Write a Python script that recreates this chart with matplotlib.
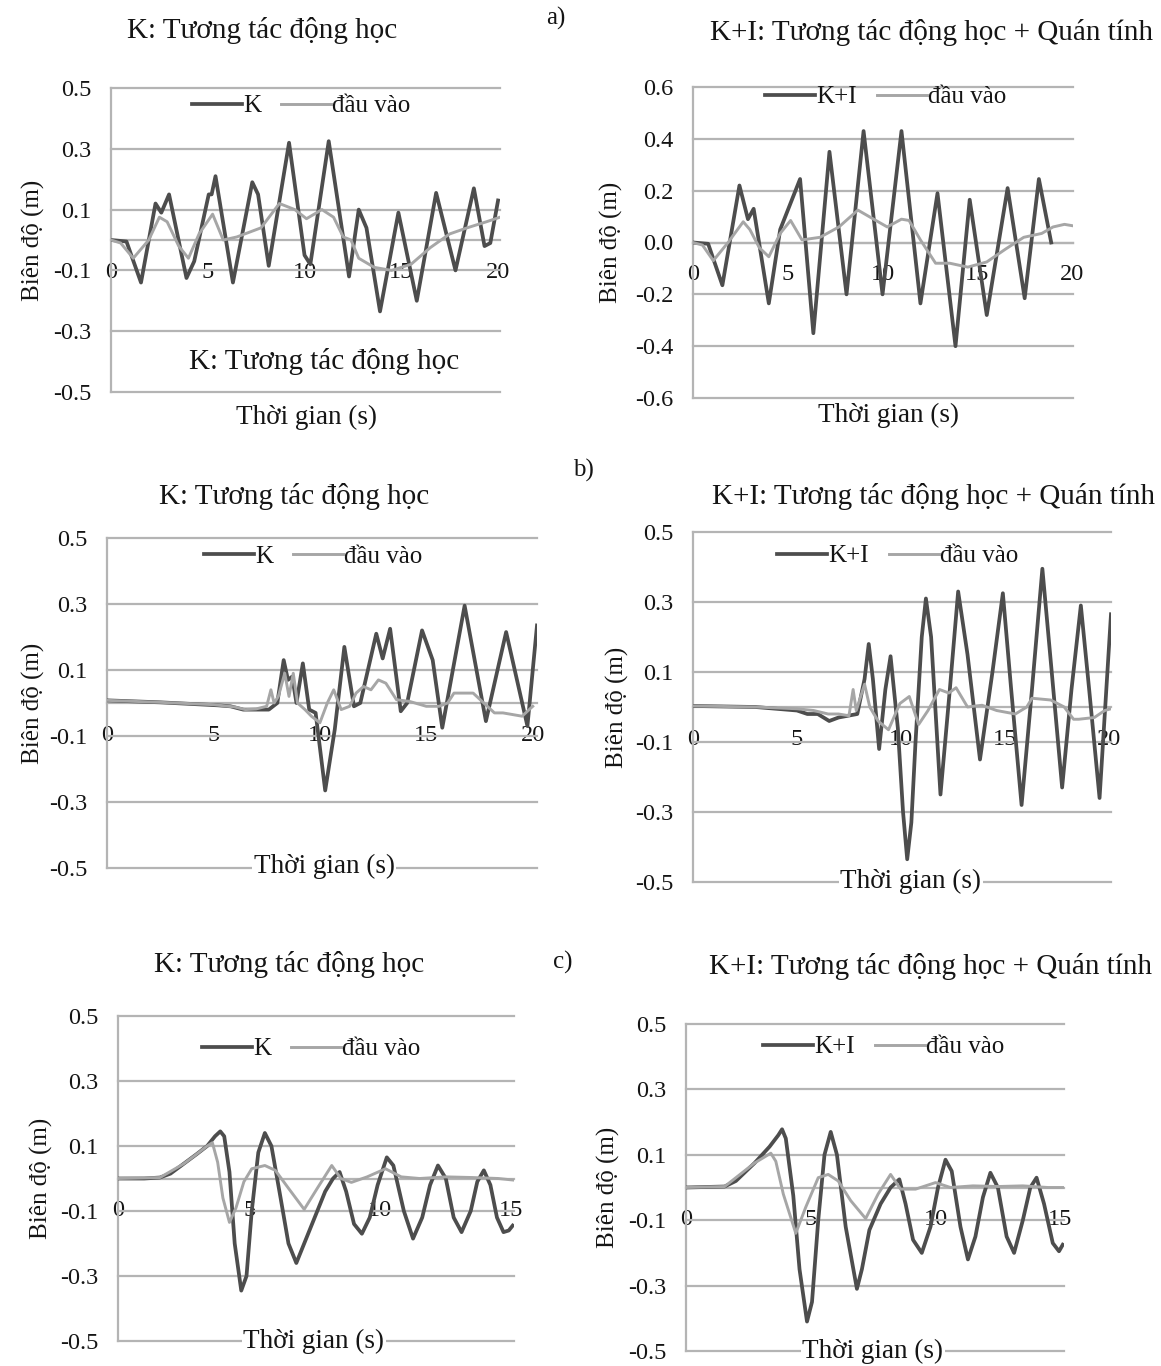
import matplotlib
matplotlib.use("Agg")
import matplotlib.pyplot as plt

plt.rcParams["font.family"] = ["Liberation Serif", "DejaVu Serif"]

W, H = 1161, 1366
K_COLOR = "#4d4d4d"
IN_COLOR = "#a6a6a6"
GRID_COLOR = "#b4b4b4"
TEXT_COLOR = "#151515"

# ---------------- data: displacement histories (time in s, amplitude in m) ----------------
# a) row
a_k_t = [0, 0.8, 1.55, 2.3, 2.6, 3.0, 3.9, 4.3, 5.05, 5.2, 5.4, 6.3, 7.3, 7.6, 8.15, 9.2, 10.0,
         10.3, 11.25, 12.3, 12.8, 13.2, 13.9, 14.85, 15.8, 16.8, 17.8, 18.75, 19.3, 19.6, 20.0]
a_k_y = [0, -0.005, -0.14, 0.12, 0.09, 0.15, -0.125, -0.07, 0.15, 0.15, 0.21, -0.14, 0.19, 0.15,
         -0.085, 0.32, -0.05, -0.08, 0.325, -0.12, 0.10, 0.04, -0.235, 0.09, -0.2, 0.155, -0.1,
         0.17, -0.02, -0.01, 0.13]
a_in_t = [0, 0.5, 1.15, 1.95, 2.5, 2.9, 3.5, 4.0, 4.55, 5.25, 5.8, 6.5, 7.75, 8.7, 9.5, 10.1,
          10.9, 11.5, 12.0, 12.4, 12.8, 13.6, 14.5, 15.5, 16.5, 17.5, 18.4, 19.4, 20.1]
a_in_y = [0, -0.01, -0.06, 0.0, 0.075, 0.06, -0.02, -0.06, 0.02, 0.085, 0.0, 0.01, 0.04, 0.12,
          0.10, 0.07, 0.10, 0.075, 0.01, 0.0, -0.06, -0.09, -0.10, -0.08, -0.025, 0.02, 0.04,
          0.06, 0.075]

a_ki_t = [0, 0.8, 1.55, 2.45, 2.9, 3.2, 4.0, 4.6, 5.65, 6.35, 7.2, 8.1, 9.0, 10.0, 11.0, 12.0,
          12.9, 13.85, 14.6, 15.5, 16.6, 17.5, 18.25, 18.9]
a_ki_y = [0, -0.005, -0.165, 0.22, 0.09, 0.13, -0.235, 0.05, 0.245, -0.35, 0.35, -0.2, 0.43,
          -0.2, 0.43, -0.235, 0.19, -0.40, 0.165, -0.28, 0.21, -0.215, 0.245, 0.0]
a_in2_t = [0, 0.5, 1.07, 1.85, 2.65, 3.0, 3.5, 4.0, 4.6, 5.15, 5.75, 6.7, 7.7, 8.7, 9.65, 10.25,
           11.0, 11.4, 12.0, 12.8, 13.55, 14.5, 15.5, 16.5, 17.45, 18.4, 19.0, 19.6, 20.0]
a_in2_y = [0, -0.01, -0.07, 0.0, 0.08, 0.05, -0.02, -0.055, 0.035, 0.085, 0.01, 0.02, 0.06,
           0.125, 0.085, 0.06, 0.09, 0.085, 0.01, -0.08, -0.08, -0.095, -0.075, -0.025, 0.02,
           0.035, 0.06, 0.07, 0.065]

# b) row
b_k_t = [0, 2.5, 5.2, 5.8, 6.4, 7.0, 7.6, 8.0, 8.3, 8.5, 8.7, 8.9, 9.2, 9.5, 9.8, 10.25, 10.7,
         11.15, 11.6, 11.9, 12.65, 12.95, 13.3, 13.8, 14.1, 14.8, 15.3, 15.75, 16.8, 17.8, 18.75,
         19.75, 20.2]
b_k_y = [0.008, 0.002, -0.007, -0.01, -0.02, -0.02, -0.02, 0.0, 0.13, 0.07, 0.08, 0.0, 0.12,
         -0.02, -0.03, -0.265, -0.08, 0.17, -0.01, 0.0, 0.21, 0.135, 0.225, -0.025, 0.0, 0.22,
         0.13, -0.075, 0.295, -0.055, 0.215, -0.07, 0.235]
b_in_t = [0, 2.5, 5.0, 6.0, 6.5, 7.0, 7.5, 7.7, 7.85, 8.05, 8.35, 8.55, 8.75, 8.95, 9.3, 9.6,
          10.0, 10.35, 10.65, 11.0, 11.4, 11.7, 12.05, 12.4, 12.75, 13.1, 13.6, 14.2, 15.0, 15.6,
          16.0, 16.3, 17.2, 17.7, 18.2, 18.6, 19.5, 20.0]
b_in_y = [0.008, 0.002, -0.005, -0.012, -0.02, -0.018, -0.01, 0.04, 0.0, 0.02, 0.09, 0.02, 0.09,
          0.0, -0.02, -0.04, -0.06, 0.0, 0.04, -0.02, -0.01, 0.03, 0.05, 0.04, 0.07, 0.06, 0.01,
          0.005, -0.01, -0.01, 0.0, 0.03, 0.03, 0.0, -0.03, -0.03, -0.04, -0.01]

b_ki_t = [0, 3.0, 5.0, 5.5, 6.0, 6.55, 7.0, 7.45, 7.9, 8.25, 8.45, 8.65, 8.95, 9.25, 9.5, 9.85,
          10.1, 10.3, 10.5, 10.7, 11.0, 11.2, 11.45, 11.9, 12.35, 12.75, 13.2, 13.8, 14.4, 14.9,
          15.3, 15.8, 16.3, 16.8, 17.25, 17.75, 18.2, 18.65, 19.05, 19.55, 20.1]
b_ki_y = [0.003, 0.0, -0.01, -0.02, -0.02, -0.04, -0.03, -0.025, -0.02, 0.08, 0.18, 0.08,
          -0.12, 0.05, 0.145, -0.06, -0.3, -0.435, -0.33, -0.1, 0.2, 0.31, 0.2, -0.25, 0.05, 0.33,
          0.15, -0.15, 0.1, 0.325, 0.05, -0.28, 0.05, 0.395, 0.1, -0.23, 0.05, 0.29, 0.05, -0.26,
          0.265]
b_in2_t = [0, 3.0, 5.0, 5.8, 6.5, 7.0, 7.5, 7.7, 7.85, 8.25, 8.5, 8.9, 9.4, 9.95, 10.4, 10.85,
           11.3, 11.85, 12.3, 12.65, 13.2, 13.9, 14.6, 15.5, 16.05, 16.3, 17.2, 17.85, 18.3, 18.55,
           19.3, 19.8, 20.1]
b_in2_y = [0.003, 0.0, -0.005, -0.01, -0.02, -0.02, -0.025, 0.05, -0.01, 0.065, 0.0, -0.04,
           -0.065, 0.01, 0.03, -0.05, -0.01, 0.05, 0.04, 0.055, 0.0, 0.005, -0.01, -0.02, 0.0,
           0.025, 0.02, 0.0, -0.035, -0.035, -0.03, -0.01, -0.005]

# c) row
c_k_t = [0, 1.0, 1.6, 2.0, 2.5, 3.0, 3.4, 3.7, 3.9, 4.05, 4.25, 4.45, 4.7, 4.9, 5.1, 5.35, 5.6,
         5.85, 6.2, 6.5, 6.8, 7.1, 7.5, 7.9, 8.2, 8.45, 8.7, 9.0, 9.3, 9.6, 9.9, 10.25, 10.5, 10.9,
         11.25, 11.6, 11.9, 12.2, 12.5, 12.8, 13.1, 13.45, 13.7, 13.95, 14.2, 14.45, 14.7, 14.9,
         15.05]
c_k_y = [0, 0.0, 0.003, 0.015, 0.045, 0.075, 0.10, 0.13, 0.145, 0.13, 0.02, -0.2, -0.345, -0.3,
         -0.1, 0.08, 0.14, 0.1, -0.06, -0.2, -0.26, -0.2, -0.12, -0.04, 0.0, 0.02, -0.04, -0.14,
         -0.17, -0.12, -0.02, 0.065, 0.04, -0.1, -0.185, -0.12, -0.02, 0.04, 0.0, -0.12, -0.165,
         -0.1, -0.01, 0.025, -0.02, -0.12, -0.165, -0.16, -0.145]
c_in_t = [0, 1.6, 2.5, 3.0, 3.4, 3.6, 3.8, 4.0, 4.25, 4.5, 4.8, 5.1, 5.6, 6.0, 6.5, 7.1, 7.6,
          8.15, 8.5, 8.9, 9.5, 10.2, 10.8, 11.5, 12.5, 13.5, 14.5, 15.1]
c_in_y = [0, 0.003, 0.045, 0.075, 0.10, 0.11, 0.05, -0.06, -0.135, -0.09, -0.01, 0.03, 0.04,
          0.025, -0.03, -0.095, -0.03, 0.04, 0.0, -0.012, 0.005, 0.03, 0.005, 0.0, 0.005, 0.003,
          0.0, -0.005]

c_ki_t = [0, 1.55, 2.0, 2.75, 3.35, 3.7, 3.85, 4.0, 4.3, 4.55, 4.85, 5.05, 5.3, 5.55, 5.8, 6.05,
          6.4, 6.85, 7.05, 7.35, 7.8, 8.2, 8.55, 8.8, 9.1, 9.45, 9.8, 10.1, 10.4, 10.65, 11.0,
          11.3, 11.6, 11.9, 12.2, 12.5, 12.85, 13.15, 13.5, 13.8, 14.05, 14.35, 14.7, 14.95, 15.1]
c_ki_y = [0, 0.003, 0.02, 0.075, 0.125, 0.16, 0.178, 0.15, -0.025, -0.25, -0.41, -0.35, -0.1,
          0.1, 0.17, 0.1, -0.12, -0.31, -0.25, -0.13, -0.05, 0.0, 0.025, -0.05, -0.16, -0.2,
          -0.12, 0.0, 0.085, 0.05, -0.12, -0.22, -0.15, -0.03, 0.045, 0.0, -0.15, -0.2, -0.1, 0.0,
          0.03, -0.05, -0.17, -0.195, -0.175]
c_in2_t = [0, 1.55, 2.75, 3.4, 3.6, 3.9, 4.4, 4.8, 5.3, 5.7, 6.1, 6.6, 7.2, 7.7, 8.2, 8.6, 9.2,
           10.0, 10.6, 11.5, 12.5, 13.5, 14.5, 15.1]
c_in2_y = [0, 0.003, 0.075, 0.105, 0.08, -0.02, -0.14, -0.06, 0.03, 0.04, 0.02, -0.04, -0.095,
           -0.02, 0.04, -0.005, -0.005, 0.015, 0.0, 0.005, 0.003, 0.005, 0.0, 0.0]

# ---------------- labels ----------------
title_k = "K: Tương tác động học"
title_ki = "K+I: Tương tác động học + Quán tính"
xlabel = "Thời gian (s)"
ylabel = "Biên độ (m)"
legend_in = "đầu vào"

ticks_05 = [-0.5, -0.3, -0.1, 0.1, 0.3, 0.5]
ticklabels_05 = ["-0.5", "-0.3", "-0.1", "0.1", "0.3", "0.5"]
ticks_06 = [-0.6, -0.4, -0.2, 0.0, 0.2, 0.4, 0.6]
ticklabels_06 = ["-0.6", "-0.4", "-0.2", "0.0", "0.2", "0.4", "0.6"]
xticks_20 = [0, 5, 10, 15, 20]
xticks_15 = [0, 5, 10, 15]

fig = plt.figure(figsize=(W / 100, H / 100), dpi=100)


def px_axes(left, top, right, bottom):
    return fig.add_axes([left / W, 1 - bottom / H, (right - left) / W, (bottom - top) / H])


def panel(box, xmax, xticks, yticks, yticklabels, k_t, k_y, k_name, in_t, in_y,
          legend_xy, title_xy, title, ylabel_x, xlabel_xy, xlabel_box):
    left, top, right, bottom = box
    ax = px_axes(left, top, right, bottom)
    ylim = yticks[-1]
    ax.plot(k_t, k_y, color=K_COLOR, lw=2.7, label=k_name, zorder=3, solid_joinstyle="round")
    ax.plot(in_t, in_y, color=IN_COLOR, lw=2.1, label=legend_in, zorder=4, solid_joinstyle="round")
    ax.set_xlim(0, xmax)
    ax.set_ylim(-ylim, ylim)
    ax.set_yticks(yticks)
    ax.set_yticklabels(yticklabels)
    ax.set_xticks(xticks)
    ax.set_xticklabels([str(v) for v in xticks])
    ax.grid(axis="y", color=GRID_COLOR, lw=1.6)
    ax.grid(axis="x", visible=False)
    for gl in ax.get_ygridlines():
        gl.set_clip_on(False)
    for s in ("top", "right"):
        ax.spines[s].set_visible(False)
    ax.spines["left"].set_color(GRID_COLOR)
    ax.spines["left"].set_linewidth(1.6)
    ax.spines["bottom"].set_position(("data", 0))
    ax.spines["bottom"].set_color(GRID_COLOR)
    ax.spines["bottom"].set_linewidth(1.6)
    ax.set_facecolor("none")
    ax.tick_params(axis="both", length=0, labelsize=17.5, colors=TEXT_COLOR)
    ax.tick_params(axis="y", pad=14)
    ax.tick_params(axis="x", pad=15.5)
    ax.set_axisbelow(True)

    lx, ly = legend_xy
    ax.legend(loc="center", bbox_to_anchor=((lx - left) / (right - left),
                                            1 - (ly - top) / (bottom - top)),
              ncol=2, frameon=False, fontsize=18, handlelength=2.0, handletextpad=0.05,
              columnspacing=0.8, labelcolor=TEXT_COLOR)

    fig.text(title_xy[0] / W, 1 - title_xy[1] / H, title, ha="center", va="center",
             fontsize=21, color=TEXT_COLOR)
    fig.text(ylabel_x / W, 1 - (top + bottom) / 2 / H, ylabel, rotation=90, ha="center",
             va="center", fontsize=18, color=TEXT_COLOR)
    bbox = dict(facecolor="white", edgecolor="none", pad=1) if xlabel_box else None
    fig.text(xlabel_xy[0] / W, 1 - xlabel_xy[1] / H, xlabel, ha="center", va="center",
             fontsize=19.5, color=TEXT_COLOR, bbox=bbox)
    return ax


ax = panel((111, 88, 500, 392), 20.1, xticks_20, ticks_05, ticklabels_05,
           a_k_t, a_k_y, "K", a_in_t, a_in_y, (301, 106), (262, 31), title_k, 33, (307, 417), False)
ax.text(11.0, -0.40, title_k, ha="center", va="center", fontsize=21, color=TEXT_COLOR)

panel((693, 87, 1073, 398), 20.05, xticks_20, ticks_06, ticklabels_06,
      a_ki_t, a_ki_y, "K+I", a_in2_t, a_in2_y, (886, 97), (931, 32), title_ki, 611, (888, 415), False)

panel((107, 538, 537, 868), 20.2, xticks_20, ticks_05, ticklabels_05,
      b_k_t, b_k_y, "K", b_in_t, b_in_y, (313, 557), (294, 497), title_k, 33, (324, 866), True)

panel((693, 532, 1111, 882), 20.1, xticks_20, ticks_05, ticklabels_05,
      b_ki_t, b_ki_y, "K+I", b_in2_t, b_in2_y, (898, 556), (933, 497), title_ki, 617, (911, 881), True)

panel((118, 1016, 514, 1341), 15.1, xticks_15, ticks_05, ticklabels_05,
      c_k_t, c_k_y, "K", c_in_t, c_in_y, (311, 1049), (289, 965), title_k, 41, (314, 1341), True)

panel((686, 1024, 1064, 1351), 15.15, xticks_15, ticks_05, ticklabels_05,
      c_ki_t, c_ki_y, "K+I", c_in2_t, c_in2_y, (884, 1047), (930, 967), title_ki, 608, (873, 1351), True)

for lab, (x, y) in {"a)": (556, 18), "b)": (583, 470), "c)": (563, 962)}.items():
    fig.text(x / W, 1 - y / H, lab, ha="center", va="center", fontsize=18, color=TEXT_COLOR)

fig.savefig("out.png", dpi=100, facecolor="white")
